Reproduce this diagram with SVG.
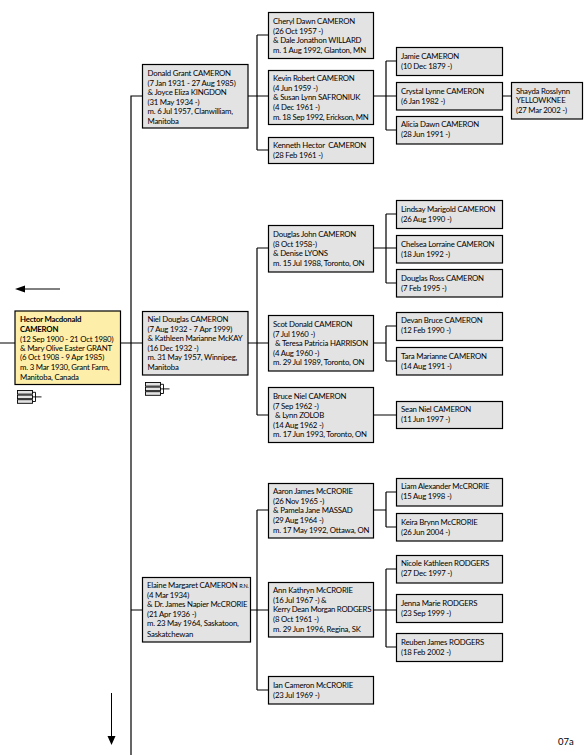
<svg xmlns="http://www.w3.org/2000/svg" width="588" height="755" viewBox="0 0 588 755">
<style>
.b{fill:#e3e3e3;stroke:#000;stroke-width:1.2}
.y{fill:#fdeeaa;stroke:#000;stroke-width:1.2}
text{font-family:Lato,"Open Sans","Liberation Sans",sans-serif;font-size:7.8px;letter-spacing:-.2px;fill:#000}
.bd{font-weight:700}
.t{letter-spacing:-.3px}
#c path{fill:none;stroke:#000;stroke-width:1.2}
.i{fill:#e3e3e3;stroke:#000;stroke-width:.9}
</style>
<defs>
<g id="tree"><rect class="i" x="0" y="0" width="15" height="3.600"/><rect class="i" x="0" y="4.600" width="15" height="3.600"/><rect class="i" x="0" y="9.200" width="15" height="3.600"/><path d="M15 1.800H18V11H15M15 6.400H24" fill="none" stroke="#000" stroke-width=".9"/></g>
</defs>
<g id="c">
<path d="M131 755V96H142M120 343H142M131 610H142M0 343H15"/>
<path d="M248 96H268M257 35V150M257 35H268M257 150H268"/>
<path d="M373 96H396M386 61V130M386 61H396M386 130H396M502 96H511"/>
<path d="M248 343H268M257 248V415M257 248H268M257 415H268"/>
<path d="M373 248H396M386 214V283M386 214H396M386 283H396"/>
<path d="M373 343H386M386 326V361M386 326H396M386 361H396M373 415H396"/>
<path d="M250 610H268M257 510V690M257 510H268M257 690H268"/>
<path d="M373 510H386M386 492V527M386 492H396M386 527H396"/>
<path d="M373 610H396M386 569V647M386 569H396M386 647H396"/>
</g>
<g id="arrows">
<path d="M24 289H60M111.500 693V736" stroke="#000" stroke-width="1" fill="none"/>
<path d="M15 289L25 285.500V292.500Z M111.500 745L107.500 736H115.500Z" fill="#000"/>
</g>
<use href="#tree" x="17.500" y="390.500"/>
<use href="#tree" x="145.500" y="382.500"/>
<g id="hector"><rect class="y" x="15" y="311" width="105.500" height="73.500"/><text class="bd" x="20" y="322">Hector Macdonald</text><text class="bd" x="20" y="331.500">CAMERON</text><text x="20" y="341.500">(12 Sep 1900 - 21 Oct 1980)</text><text x="20" y="350.500">&amp; Mary Olive Easter GRANT</text><text x="20" y="360">(6 Oct 1908 - 9 Apr 1985)</text><text x="20" y="369.500">m. 3 Mar 1930, Grant Farm,</text><text x="20" y="379.500">Manitoba, Canada</text></g>
<g id="donald"><rect class="b" x="142.500" y="64.500" width="105.500" height="63.500"/><text x="147.500" y="76">Donald Grant CAMERON</text><text x="147.500" y="85.500">(7 Jan 1931 - 27 Aug 1985)</text><text x="147.500" y="95">&amp; Joyce Eliza KINGDON</text><text x="147.500" y="104.500">(31 May 1934 -)</text><text x="147.500" y="114">m. 6 Jul 1957, Clanwilliam,</text><text x="147.500" y="123.500">Manitoba</text></g>
<g id="niel"><rect class="b" x="142.500" y="311.500" width="105.500" height="63.500"/><text x="147.500" y="322">Niel Douglas CAMERON</text><text x="147.500" y="331.500">(7 Aug 1932 - 7 Apr 1999)</text><text x="147.500" y="341">&amp; Kathleen Marianne McKAY</text><text x="147.500" y="350.500">(16 Dec 1932 -)</text><text x="147.500" y="360">m. 31 May 1957, Winnipeg,</text><text x="147.500" y="369.500">Manitoba</text></g>
<g id="elaine"><rect class="b" x="142.500" y="577.500" width="108" height="64.500"/><text x="147" y="588">Elaine Margaret CAMERON <tspan font-size="5.500">R.N.</tspan></text><text x="147" y="597.500">(4 Mar 1934)</text><text x="147" y="607">&amp; Dr. James Napier McCRORIE</text><text x="147" y="616.500">(21 Apr 1936 -)</text><text x="147" y="626">m. 23 May 1964, Saskatoon,</text><text x="147" y="637">Saskatchewan</text></g>
<g id="cheryl"><rect class="b" x="268.500" y="12.500" width="105" height="46"/><text x="273" y="24">Cheryl Dawn CAMERON</text><text x="273" y="34">(26 Oct 1957 -)</text><text x="273" y="43">&amp; Dale Jonathon WILLARD</text><text x="273" y="53">m. 1 Aug 1992, Glanton, MN</text></g>
<g id="kevin"><rect class="b" x="268.500" y="70.500" width="105" height="54"/><text x="273" y="81">Kevin Robert CAMERON</text><text x="273" y="91">(4 Jun 1959 -)</text><text x="273" y="100">&amp; Susan Lynn SAFRONIUK</text><text x="273" y="110">(4 Dec 1961 -)</text><text x="273" y="120" class="t">m. 18 Sep 1992, Erickson, MN</text></g>
<g id="kenneth"><rect class="b" x="268.500" y="137.500" width="105" height="26"/><text x="273" y="148">Kenneth Hector &#160;CAMERON</text><text x="273" y="158">(28 Feb 1961 -)</text></g>
<g id="jamie"><rect class="b" x="396.500" y="47.500" width="106" height="28"/><text x="401" y="59">Jamie CAMERON</text><text x="401" y="69">(10 Dec 1879 -)</text></g>
<g id="crystal"><rect class="b" x="396.500" y="82.500" width="106" height="27.500"/><text x="401" y="94">Crystal Lynne CAMERON</text><text x="401" y="104">(6 Jan 1982 -)</text></g>
<g id="alicia"><rect class="b" x="396.500" y="116.500" width="106" height="27.500"/><text x="401" y="127">Alicia Dawn CAMERON</text><text x="401" y="137">(28 Jun 1991 -)</text></g>
<g id="shayda"><rect class="b" x="511.500" y="82.500" width="71" height="36.500"/><text x="516" y="94">Shayda Rosslynn</text><text x="516" y="103">YELLOWKNEE</text><text x="516" y="113">(27 Mar 2002 -)</text></g>
<g id="douglasj"><rect class="b" x="268.500" y="225.500" width="105" height="46.500"/><text x="273" y="237">Douglas John CAMERON</text><text x="273" y="246.500">(8 Oct 1958-)</text><text x="273" y="256">&amp; Denise LYONS</text><text x="273" y="266">m. 15 Jul 1988, Toronto, ON</text></g>
<g id="scot"><rect class="b" x="268.500" y="315.500" width="105" height="55.500"/><text x="273" y="327">Scot Donald CAMERON</text><text x="273" y="337">(7 Jul 1960 -)</text><text x="275" y="346">&amp; Teresa Patricia HARRISON</text><text x="273" y="355.500">(4 Aug 1960 -)</text><text x="273" y="365">m. 29 Jul 1989, Toronto, ON</text></g>
<g id="bruce"><rect class="b" x="268.500" y="387.500" width="105" height="55"/><text x="273" y="399">Bruce Niel CAMERON</text><text x="273" y="409">(7 Sep 1962 -)</text><text x="275" y="418">&amp; Lynn ZOLOB</text><text x="273" y="427.500">(14 Aug 1962 -)</text><text x="273" y="437">m. 17 Jun 1993, Toronto, ON</text></g>
<g id="lindsay"><rect class="b" x="396.500" y="200.500" width="106" height="28"/><text x="401" y="212">Lindsay Marigold CAMERON</text><text x="401" y="222">(26 Aug 1990 -)</text></g>
<g id="chelsea"><rect class="b" x="396.500" y="235.500" width="106" height="27.500"/><text x="401" y="247">Chelsea Lorraine CAMERON</text><text x="401" y="257">(18 Jun 1992 -)</text></g>
<g id="douglasr"><rect class="b" x="396.500" y="269.500" width="106" height="27.500"/><text x="401" y="281">Douglas Ross CAMERON</text><text x="401" y="291">(7 Feb 1995 -)</text></g>
<g id="devan"><rect class="b" x="396.500" y="312.500" width="106" height="28"/><text x="401" y="323">Devan Bruce CAMERON</text><text x="401" y="333">(12 Feb 1990 -)</text></g>
<g id="tara"><rect class="b" x="396.500" y="347.500" width="106" height="27.500"/><text x="401" y="359">Tara Marianne CAMERON</text><text x="401" y="369">(14 Aug 1991 -)</text></g>
<g id="sean"><rect class="b" x="396.500" y="401.500" width="106" height="27"/><text x="401" y="412">Sean Niel CAMERON</text><text x="401" y="422">(11 Jun 1997 -)</text></g>
<g id="aaron"><rect class="b" x="268.500" y="483.500" width="105" height="54.500"/><text x="273" y="494">Aaron James McCRORIE</text><text x="273" y="503.500">(26 Nov 1965 -)</text><text x="273" y="513">&amp; Pamela Jane MASSAD</text><text x="273" y="523">(29 Aug 1964 -)</text><text x="273" y="532.500">m. 17 May 1992, Ottawa, ON</text></g>
<g id="ann"><rect class="b" x="268.500" y="582.500" width="105" height="54.500"/><text x="273" y="593">Ann Kathryn McCRORIE</text><text x="273" y="602.500">(16 Jul 1967 -) &amp;</text><text x="273" y="612" class="t">Kerry Dean Morgan RODGERS</text><text x="273" y="621.500">(8 Oct 1961 -)</text><text x="273" y="631.500">m. 29 Jun 1996, Regina, SK</text></g>
<g id="ian"><rect class="b" x="268.500" y="676.500" width="105" height="27.500"/><text x="273" y="688">Ian Cameron McCRORIE</text><text x="273" y="697.500">(23 Jul 1969 -)</text></g>
<g id="liam"><rect class="b" x="396.500" y="478.500" width="106" height="27.500"/><text x="401" y="489">Liam Alexander McCRORIE</text><text x="401" y="499">(15 Aug 1998 -)</text></g>
<g id="keira"><rect class="b" x="396.500" y="513.500" width="106" height="27.500"/><text x="401" y="525">Keira Brynn McCRORIE</text><text x="401" y="535">(26 Jun 2004 -)</text></g>
<g id="nicole"><rect class="b" x="396.500" y="555.500" width="106" height="27.500"/><text x="401" y="566">Nicole Kathleen RODGERS</text><text x="401" y="576">(27 Dec 1997 -)</text></g>
<g id="jenna"><rect class="b" x="396.500" y="594.500" width="106" height="28"/><text x="401" y="606">Jenna Marie RODGERS</text><text x="401" y="616">(23 Sep 1999 -)</text></g>
<g id="reuben"><rect class="b" x="396.500" y="633.500" width="106" height="28"/><text x="401" y="645">Reuben James RODGERS</text><text x="401" y="655">(18 Feb 2002 -)</text></g>
<text x="558" y="745" style="font-size:9.500px;letter-spacing:0">07a</text>
</svg>
